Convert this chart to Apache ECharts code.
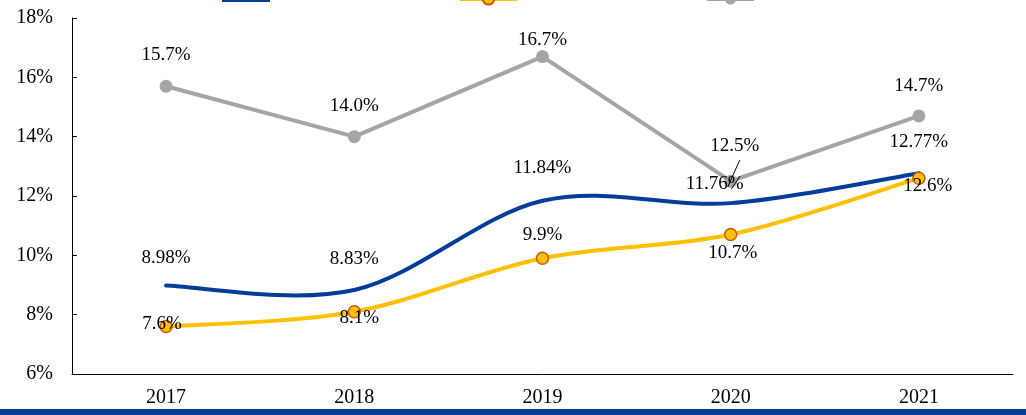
<!DOCTYPE html>
<html lang="en">
<head>
  <meta charset="UTF-8">
  <title>Chart</title>
  <script src="https://cdn.jsdelivr.net/npm/echarts@6/dist/echarts.min.js"></script>
  <style>
    html, body { margin: 0; padding: 0; background: #fff; }
    #main { width: 1026px; height: 415px; }
  </style>
</head>
<body>
  <div id="main"></div>
  <script type="text/javascript">
    var years = ['2017', '2018', '2019', '2020', '2021'];
    var seriesNames = ['系列一', '系列二', '系列三'];
    var blueValues = [8.98, 8.83, 11.84, 11.76, 12.77];
    var yellowValues = [7.6, 8.1, 9.9, 10.7, 12.6];
    var grayValues = [15.7, 14.0, 16.7, 12.5, 14.7];
    var blueLabels = ['8.98%', '8.83%', '11.84%', '11.76%', '12.77%'];
    var yellowLabels = ['7.6%', '8.1%', '9.9%', '10.7%', '12.6%'];
    var grayLabels = ['15.7%', '14.0%', '16.7%', '12.5%', '14.7%'];

    // label offsets from the point centre (px)
    var blueOffsets = [[0, -28], [0, -31], [0, -33], [-16, -19], [0, -31]];
    var yellowOffsets = [[-4, -3], [5, 6], [0, -23], [2, 18], [9, 8]];
    var grayOffsets = [[0, -31], [0, -31], [0, -17], [4, -35], [0, -30]];

    var font = 'Liberation Serif, Times New Roman, serif';
    var BLUE = '#003d99', YELLOW = '#ffc000', GRAY = '#a5a5a5';

    function buildData(values, labels, offsets) {
      return values.map(function (v, i) {
        return { value: v, label: { formatter: labels[i], offset: offsets[i] } };
      });
    }

    // Excel-like smoothed line drawn through the axis coordinates
    function smoothRenderer(values) {
      return function (params, api) {
        if (params.dataIndex !== 0) return null;
        var pts = values.map(function (v, i) { return api.coord([i, v]); });
        var n = pts.length;
        var d = 'M' + pts[0][0] + ' ' + pts[0][1];
        for (var i = 0; i < n - 1; i++) {
          var p0 = pts[Math.max(i - 1, 0)], p1 = pts[i], p2 = pts[i + 1], p3 = pts[Math.min(i + 2, n - 1)];
          var c1 = [p1[0] + (p2[0] - p0[0]) / 6, p1[1] + (p2[1] - p0[1]) / 6];
          var c2 = [p2[0] - (p3[0] - p1[0]) / 6, p2[1] - (p3[1] - p1[1]) / 6];
          d += ' C' + c1[0] + ' ' + c1[1] + ' ' + c2[0] + ' ' + c2[1] + ' ' + p2[0] + ' ' + p2[1];
        }
        return {
          type: 'path',
          shape: { pathData: d },
          style: { fill: null, stroke: api.visual('color'), lineWidth: 4, lineCap: 'round' }
        };
      };
    }

    var myChart = echarts.init(document.getElementById('main'));

    var labelBase = {
      show: true,
      position: 'inside',
      color: '#000',
      fontFamily: font,
      fontSize: 19
    };

    // legend text sits above the icon (cut off by the top edge, as in the source)
    var legendText = {
      fontFamily: font,
      fontSize: 14,
      rich: { t: { fontFamily: font, fontSize: 14, lineHeight: 40, verticalAlign: 'top' } }
    };
    var legendFormatter = function (name) { return '{t|' + name + '}'; };

    var option = {
      animation: false,
      legend: [
        { left: 222, top: -20, padding: 0, itemWidth: 48, itemHeight: 4, textStyle: legendText, formatter: legendFormatter,
          data: [{ name: seriesNames[0], icon: 'rect', itemStyle: { color: BLUE, opacity: 1 } }] },
        { left: 458, top: -21, padding: 0, itemWidth: 57, itemHeight: 14, textStyle: legendText, formatter: legendFormatter,
          data: [{ name: seriesNames[1], lineStyle: { color: YELLOW, width: 4, opacity: 1 } }] },
        { left: 705, top: -21, padding: 0, itemWidth: 47, itemHeight: 14, textStyle: legendText, formatter: legendFormatter,
          data: [{ name: seriesNames[2], lineStyle: { color: GRAY, width: 4, opacity: 1 } }] }
      ],
      grid: { left: 72, right: 13, top: 18, bottom: 41, containLabel: false },
      xAxis: {
        type: 'category',
        data: years,
        boundaryGap: true,
        axisLine: { lineStyle: { color: '#000', width: 1 } },
        axisTick: { inside: true, length: 6, lineStyle: { color: '#000' } },
        axisLabel: { color: '#000', fontFamily: font, fontSize: 20, margin: 14 }
      },
      yAxis: {
        type: 'value',
        min: 6,
        max: 18,
        interval: 2,
        axisLine: { show: true, lineStyle: { color: '#000', width: 1 } },
        axisTick: { show: true, inside: true, length: 5, lineStyle: { color: '#000' } },
        splitLine: { show: false },
        axisLabel: {
          color: '#000', fontFamily: font, fontSize: 20, margin: 19,
          formatter: function (v) { return v + '%'; }
        }
      },
      series: [
        {
          name: seriesNames[0],
          type: 'line',
          symbol: 'circle',
          symbolSize: 1,
          lineStyle: { color: BLUE, width: 4, opacity: 0 },
          itemStyle: { color: 'transparent' },
          label: labelBase,
          data: buildData(blueValues, blueLabels, blueOffsets),
          z: 5
        },
        {
          name: seriesNames[1],
          type: 'line',
          symbol: 'circle',
          symbolSize: 12,
          lineStyle: { color: YELLOW, width: 4, opacity: 0 },
          itemStyle: { color: YELLOW, borderColor: '#c55a11', borderWidth: 1.5 },
          label: labelBase,
          data: buildData(yellowValues, yellowLabels, yellowOffsets),
          z: 6
        },
        {
          name: seriesNames[2],
          type: 'line',
          symbol: 'circle',
          symbolSize: 13,
          lineStyle: { color: GRAY, width: 4 },
          itemStyle: { color: GRAY },
          label: labelBase,
          data: buildData(grayValues, grayLabels, grayOffsets),
          z: 2
        },
        {
          type: 'custom',
          renderItem: smoothRenderer(blueValues),
          itemStyle: { color: BLUE },
          data: blueValues.map(function (v, i) { return [i, v]; }),
          z: 3
        },
        {
          type: 'custom',
          renderItem: smoothRenderer(yellowValues),
          itemStyle: { color: YELLOW },
          data: yellowValues.map(function (v, i) { return [i, v]; }),
          z: 4
        }
      ]
    };

    myChart.setOption(option);

    // bottom blue rule and leader line for the 2020 grey label
    var p = myChart.convertToPixel({ xAxisIndex: 0, yAxisIndex: 0 }, [3, grayValues[3]]);
    myChart.setOption({
      graphic: [
        { type: 'rect', left: 0, bottom: 0, shape: { width: 1026, height: 6 }, style: { fill: '#003f98' } },
        { type: 'line', shape: { x1: p[0] - 3, y1: p[1] + 6, x2: p[0] + 9, y2: p[1] - 21 }, style: { stroke: '#000', lineWidth: 1 }, z: 10 }
      ]
    });

    window.onresize = function () {
      myChart.resize();
    };
  </script>
</body>
</html>
